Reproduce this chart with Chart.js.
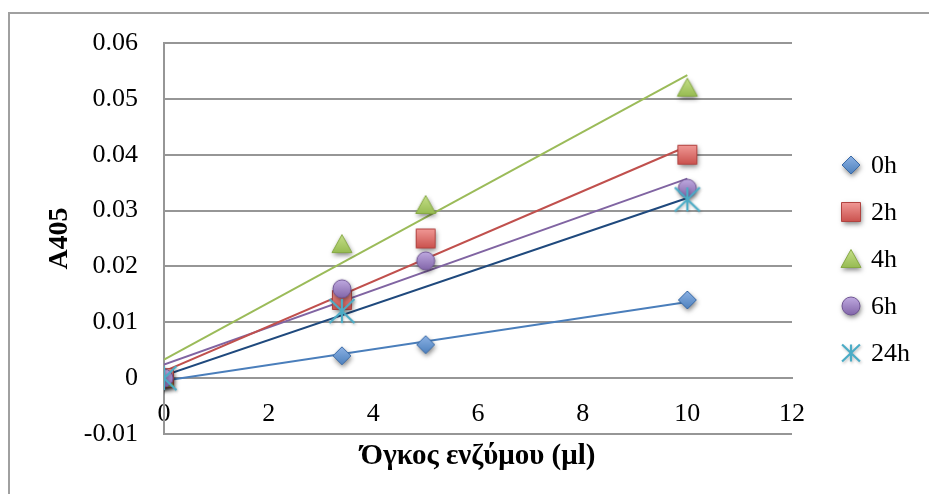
<!DOCTYPE html>
<html>
<head>
<meta charset="utf-8">
<script src="https://cdn.jsdelivr.net/npm/chart.js@4.4.1/dist/chart.umd.min.js"></script>
<style>
  html, body { margin: 0; padding: 0; background: #fff; }
  #wrap { width: 929px; height: 494px; position: relative; }
</style>
</head>
<body>
<div id="wrap"><canvas id="chart" width="929" height="494"></canvas></div>
<script>
// Enzyme volume (µl) on the x axis
const volumes = [0, 3.4, 5, 10];
const seriesLabels = ['0h', '2h', '4h', '6h', '24h'];
// Absorbance at 405 nm for each incubation time
const abs0h  = [0, 0.004, 0.006, 0.014];
const abs2h  = [0, 0.014, 0.025, 0.040];
const abs4h  = [0, 0.024, 0.031, 0.052];
const abs6h  = [0, 0.016, 0.021, 0.034];
const abs24h = [0, 0.012, null, 0.032];
const xTickValues = [0, 2, 4, 6, 8, 10, 12];
const yTickValues = [-0.01, 0, 0.01, 0.02, 0.03, 0.04, 0.05, 0.06];

const seriesValues = [abs0h, abs2h, abs4h, abs6h, abs24h];
const FONT = '"Liberation Serif", "Times New Roman", serif';

// marker appearance
const markerStyle = [
  { shape: 'diamond',  light: '#8fb4e6', base: '#4a7ebb', edge: '#3a6aa6' },
  { shape: 'square',   light: '#f19a97', base: '#c9504c', edge: '#b04340' },
  { shape: 'triangle', light: '#c6e08a', base: '#93b84e', edge: '#86a944' },
  { shape: 'circle',   light: '#c2ade3', base: '#7f62a6', edge: '#6f5494' },
  { shape: 'star',     light: '#4bacc6', base: '#4bacc6', edge: '#4bacc6' }
];
const trendColors = ['#4a7ebb', '#c0504d', '#9bbb59', '#8064a2', '#1f497d'];

function makeMarker(st, starSize) {
  const s = 36, m = s / 2;
  const c = document.createElement('canvas');
  c.width = s; c.height = s;
  const g = c.getContext('2d');
  if (st.shape === 'star') {
    const h = starSize || 12;
    const w = starSize ? starSize * 1.05 : 12.5;
    g.strokeStyle = st.base;
    g.lineWidth = 2.2;
    g.lineCap = 'butt';
    g.shadowColor = 'rgba(0,0,0,0.25)';
    g.shadowBlur = 3; g.shadowOffsetX = 1; g.shadowOffsetY = 1.5;
    g.beginPath();
    g.moveTo(m, m - h); g.lineTo(m, m + h);
    g.moveTo(m - w, m - h); g.lineTo(m + w, m + h);
    g.moveTo(m - w, m + h); g.lineTo(m + w, m - h);
    g.stroke();
    return c;
  }
  const path = () => {
    g.beginPath();
    if (st.shape === 'diamond') {
      g.moveTo(m, m - 9); g.lineTo(m + 9, m); g.lineTo(m, m + 9); g.lineTo(m - 9, m); g.closePath();
    } else if (st.shape === 'square') {
      g.rect(m - 9.5, m - 9.5, 19, 19);
    } else if (st.shape === 'triangle') {
      g.moveTo(m, m - 9.5); g.lineTo(m + 10, m + 8.5); g.lineTo(m - 10, m + 8.5); g.closePath();
    } else {
      g.arc(m, m, 9, 0, Math.PI * 2);
    }
  };
  g.save();
  g.shadowColor = 'rgba(0,0,0,0.5)';
  g.shadowBlur = 5; g.shadowOffsetX = 1; g.shadowOffsetY = 2.5;
  path();
  const grad = g.createLinearGradient(0, m - 10, 0, m + 10);
  grad.addColorStop(0, st.light);
  grad.addColorStop(1, st.base);
  g.fillStyle = grad;
  g.fill();
  g.restore();
  path();
  g.strokeStyle = st.edge;
  g.lineWidth = 1;
  g.stroke();
  return c;
}

const chartMarkers = markerStyle.map(st => makeMarker(st));
const legendMarkers = markerStyle.map(st => makeMarker(st, st.shape === 'star' ? 8.5 : 0));

// least-squares trend line over the measured range
function trendLine(xs, ys) {
  const pts = xs.map((x, i) => [x, ys[i]]).filter(p => p[1] !== null);
  const n = pts.length;
  const mx = pts.reduce((a, p) => a + p[0], 0) / n;
  const my = pts.reduce((a, p) => a + p[1], 0) / n;
  let sxy = 0, sxx = 0;
  pts.forEach(p => { sxy += (p[0] - mx) * (p[1] - my); sxx += (p[0] - mx) ** 2; });
  const k = sxy / sxx, b = my - k * mx;
  const x0 = Math.min(...pts.map(p => p[0])), x1 = Math.max(...pts.map(p => p[0]));
  return [{ x: x0, y: k * x0 + b }, { x: x1, y: k * x1 + b }];
}

const pointSets = seriesValues.map((vals, i) => ({
  label: seriesLabels[i],
  data: volumes.map((x, j) => ({ x, y: vals[j] })).filter(p => p.y !== null),
  pointStyle: chartMarkers[i],
  pointRadius: 10,
  showLine: false,
  order: 5 - i
}));

const lineSets = seriesValues.map((vals, i) => ({
  label: seriesLabels[i] + ' trend',
  data: trendLine(volumes, vals),
  showLine: true,
  borderColor: trendColors[i],
  borderWidth: 2,
  pointRadius: 0,
  fill: false,
  order: 10 + i
}));

const frame = {
  id: 'frame',
  beforeDraw(chart) {
    const ctx = chart.ctx;
    ctx.save();
    ctx.strokeStyle = '#a0a0a0';
    ctx.lineWidth = 2;
    ctx.strokeRect(9, 13, 2000, 2000);
    ctx.restore();
  }
};

const sideLegend = {
  id: 'sideLegend',
  afterDraw(chart) {
    const ctx = chart.ctx;
    ctx.save();
    ctx.font = '26px ' + FONT;
    ctx.fillStyle = '#000';
    ctx.textBaseline = 'middle';
    ctx.textAlign = 'left';
    seriesLabels.forEach((lab, i) => {
      const y = 165 + 47 * i;
      const img = legendMarkers[i];
      ctx.drawImage(img, 851 - img.width / 2, y - img.height / 2);
      ctx.fillText(lab, 871, y + 1);
    });
    ctx.restore();
  }
};

new Chart(document.getElementById('chart'), {
  type: 'scatter',
  data: { datasets: [...pointSets, ...lineSets] },
  options: {
    responsive: false,
    animation: false,
    layout: { padding: { left: 43, right: 137, top: 43, bottom: 0 } },
    plugins: {
      legend: { display: false },
      tooltip: { enabled: false },
      title: {
        display: true,
        position: 'bottom',
        fullSize: false,
        text: 'Όγκος ενζύμου (μl)',
        color: '#000',
        font: { family: FONT, size: 29, weight: 'bold', lineHeight: 1.2 },
        padding: { top: 5.6, bottom: 19.6 }
      }
    },
    scales: {
      x: {
        type: 'linear',
        position: { y: 0 },
        min: 0, max: 12,
        afterBuildTicks: s => { s.ticks = xTickValues.map(v => ({ value: v })); },
        grid: { display: false, drawTicks: false },
        border: { display: true, color: '#969696', width: 2 },
        ticks: { color: '#000', padding: 20, font: { family: FONT, size: 26 } }
      },
      y: {
        type: 'linear',
        min: -0.01, max: 0.06,
        afterBuildTicks: s => { s.ticks = yTickValues.map(v => ({ value: v })); },
        afterFit: s => { s.width = 121; },
        grid: { color: '#969696', lineWidth: 2, drawTicks: false },
        border: { display: true, color: '#969696', width: 2 },
        ticks: {
          color: '#000', padding: 26, font: { family: FONT, size: 26 },
          callback: v => String(Math.round(v * 100) / 100)
        },
        title: {
          display: true, text: 'A405', color: '#000',
          font: { family: FONT, size: 28, weight: 'bold', lineHeight: 1.2 },
          padding: 0
        }
      }
    }
  },
  plugins: [frame, sideLegend]
});
</script>
</body>
</html>
